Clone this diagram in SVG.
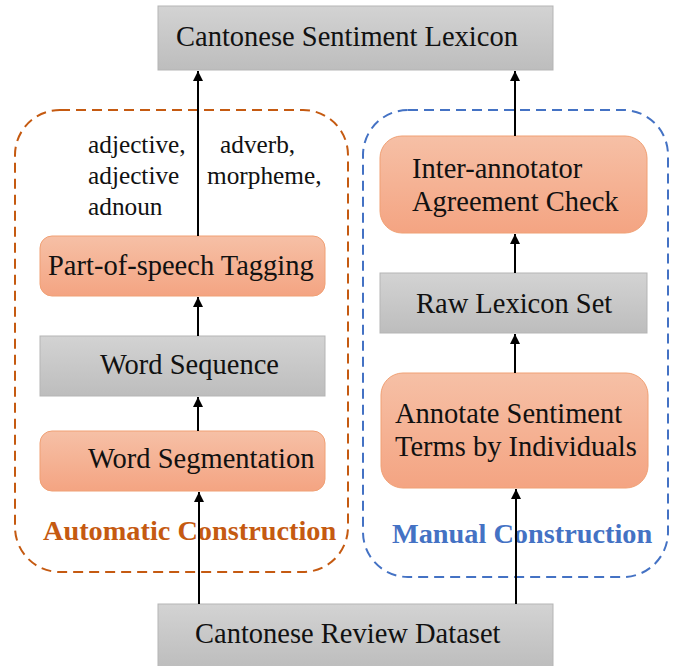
<svg xmlns="http://www.w3.org/2000/svg" width="673" height="666" viewBox="0 0 673 666">
<defs>
<linearGradient id="gGray" x1="0" y1="0" x2="0" y2="1"><stop offset="0" stop-color="#d3d3d3"/><stop offset="1" stop-color="#bdbdbd"/></linearGradient>
<linearGradient id="gOrange" x1="0" y1="0" x2="0" y2="1"><stop offset="0" stop-color="#f6c0a6"/><stop offset="1" stop-color="#f4a482"/></linearGradient>
<marker id="arr" markerUnits="userSpaceOnUse" markerWidth="10" markerHeight="12" refX="10" refY="5" orient="auto"><path d="M0,0 L10,5 L0,10 Z" fill="#000"/></marker>
<style>
.gray{fill:url(#gGray);stroke:#b5b5b5;stroke-width:1}
.orange{fill:url(#gOrange);stroke:#f0a074;stroke-width:1}
.t{font-family:"Liberation Serif","Times New Roman",serif;font-size:28.5px;fill:#111}
.lab{font-family:"Liberation Serif","Times New Roman",serif;font-size:25.3px;fill:#111}
.title{font-family:"Liberation Serif","Times New Roman",serif;font-size:28.3px;font-weight:bold}
.dash{fill:none;stroke-width:2;stroke-dasharray:10 6}
.conn line{stroke:#000;stroke-width:2;marker-end:url(#arr)}
</style>
</defs>
<rect width="673" height="666" fill="#fff"/>
<g id="auto-group">
<rect class="dash" x="15" y="110" width="333" height="462" rx="45" stroke="#c55a11"/>
<text class="title" x="43" y="540" fill="#c55a11">Automatic Construction</text>
</g>
<g id="manual-group">
<rect class="dash" x="363" y="110" width="305" height="467" rx="45" stroke="#4472c4"/>
<text class="title" x="392" y="543" fill="#4472c4">Manual Construction</text>
</g>
<g id="lexicon"><rect class="gray" x="158" y="6" width="395" height="64"/><text class="t" x="176" y="46">Cantonese Sentiment Lexicon</text></g>
<g id="pos-labels">
<text class="lab" x="88" y="153">adjective,</text>
<text class="lab" x="88" y="184">adjective</text>
<text class="lab" x="88" y="215">adnoun</text>
<text class="lab" x="220" y="153">adverb,</text>
<text class="lab" x="207" y="184">morpheme,</text>
</g>
<g id="pos"><rect class="orange" x="40" y="236" width="285" height="60" rx="12"/><text class="t" x="48" y="275">Part-of-speech Tagging</text></g>
<g id="wordseq"><rect class="gray" x="40" y="336" width="285" height="60"/><text class="t" x="100" y="374">Word Sequence</text></g>
<g id="wordseg"><rect class="orange" x="40" y="431" width="285" height="60" rx="12"/><text class="t" x="88" y="468">Word Segmentation</text></g>
<g id="inter"><rect class="orange" x="380" y="136" width="267" height="97" rx="22"/><text class="t" x="412" y="178">Inter-annotator</text><text class="t" x="412" y="211">Agreement Check</text></g>
<g id="raw"><rect class="gray" x="380" y="273" width="267" height="60"/><text class="t" x="416" y="313">Raw Lexicon Set</text></g>
<g id="annotate"><rect class="orange" x="381" y="373" width="267" height="115" rx="22"/><text class="t" x="395" y="423">Annotate Sentiment</text><text class="t" x="395" y="456">Terms by Individuals</text></g>
<g id="dataset"><rect class="gray" x="158" y="604" width="395" height="64"/><text class="t" x="195" y="643">Cantonese Review Dataset</text></g>
<g id="connectors" class="conn">
<line x1="198" y1="236" x2="198" y2="71"/>
<line x1="515" y1="136" x2="515" y2="71"/>
<line x1="198" y1="336" x2="198" y2="297"/>
<line x1="198" y1="431" x2="198" y2="397"/>
<line x1="199" y1="604" x2="199" y2="492"/>
<line x1="515" y1="273" x2="515" y2="234"/>
<line x1="515" y1="373" x2="515" y2="334"/>
<line x1="516" y1="604" x2="516" y2="489"/>
</g>
</svg>
